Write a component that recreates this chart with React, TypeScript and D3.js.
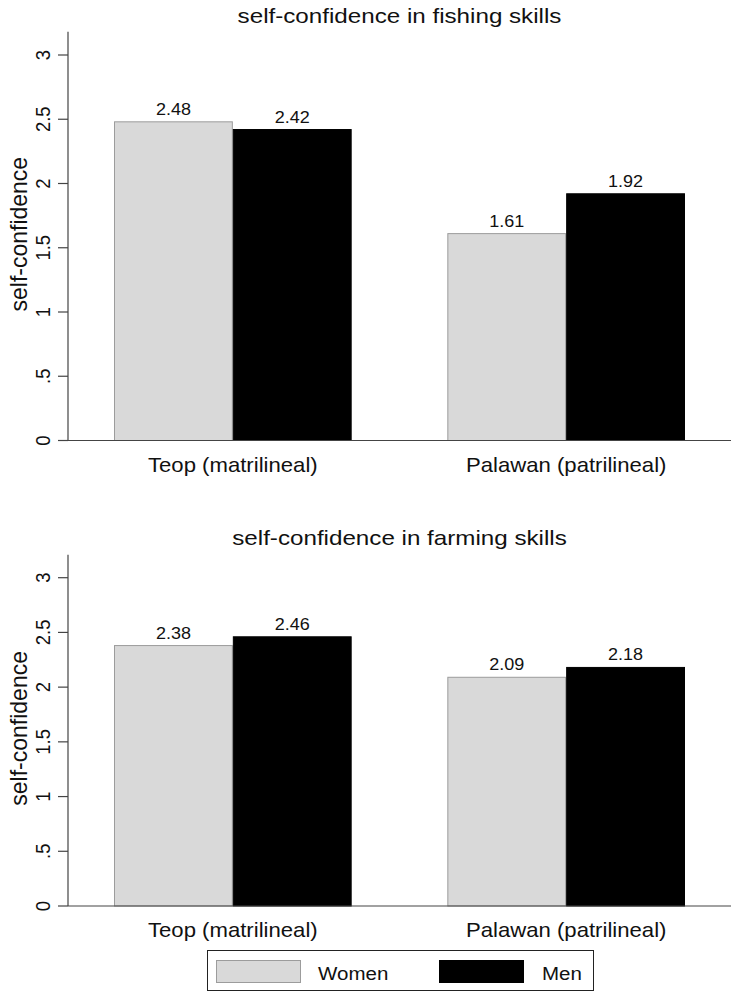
import React from "react";
import * as d3 from "d3";

const categories = ["Teop (matrilineal)", "Palawan (patrilineal)"];
const seriesNames = ["Women", "Men"];
const fishingWomen = [2.48, 1.61];
const fishingMen = [2.42, 1.92];
const farmingWomen = [2.38, 2.09];
const farmingMen = [2.46, 2.18];
const yTickValues = [0, 0.5, 1, 1.5, 2, 2.5, 3];
const yTickLabels = ["0", ".5", "1", "1.5", "2", "2.5", "3"];
const titles = ["self-confidence in fishing skills", "self-confidence in farming skills"];
const yAxisTitle = "self-confidence";

const FONT = "'Liberation Sans', Arial, Helvetica, sans-serif";
const fills = ["#d9d9d9", "#000000"];
const strokes = ["#9c9c9c", "#000000"];

const xLeft = 68;
const xRight = 731;

const x = d3
  .scaleBand<string>()
  .domain(categories)
  .range([xLeft, xRight])
  .paddingInner(0.287)
  .paddingOuter(0.138);
const xSub = d3.scaleBand<string>().domain(seriesNames).range([0, x.bandwidth()]);

type PanelProps = {
  title: string;
  women: number[];
  men: number[];
  yZero: number;
  yThree: number;
  yTopVal: number;
  titleY: number;
};

function Panel({ title, women, men, yZero, yThree, yTopVal, titleY }: PanelProps) {
  const y = d3.scaleLinear().domain([0, 3]).range([yZero, yThree]);
  const values = [women, men];
  const cx = (xLeft + xRight) / 2;
  const midY = (y(0) + y(yTopVal)) / 2 - 2;
  return (
    <g>
      <text
        transform={`translate(${cx},${titleY}) scale(1.18,1)`}
        textAnchor="middle"
        fontSize={20.5}
        fontFamily={FONT}
        fill="#111"
      >
        {title}
      </text>
      {categories.map((c, ci) =>
        seriesNames.map((s, si) => {
          const v = values[si][ci];
          const bx = (x(c) as number) + (xSub(s) as number);
          const bw = xSub.bandwidth();
          return (
            <g key={c + s}>
              <rect
                x={bx + 0.5}
                y={y(v)}
                width={bw - 1}
                height={y(0) - y(v)}
                fill={fills[si]}
                stroke={strokes[si]}
                strokeWidth={1}
              />
              <text
                transform={`translate(${bx + bw / 2},${y(v) - 7}) scale(1.06,1)`}
                textAnchor="middle"
                fontSize={17}
                fontFamily={FONT}
                fill="#111"
              >
                {v.toFixed(2)}
              </text>
            </g>
          );
        })
      )}
      {/* y axis */}
      <line x1={xLeft} x2={xLeft} y1={y(yTopVal)} y2={y(0)} stroke="#444" strokeWidth={1.2} />
      {yTickValues.map((t, i) => (
        <g key={t}>
          <line x1={xLeft - 10} x2={xLeft} y1={y(t)} y2={y(t)} stroke="#444" strokeWidth={1.2} />
          <text
            transform={`translate(${50},${y(t)}) scale(1.12,1) rotate(-90)`}
            textAnchor="middle"
            fontSize={18.5}
            fontFamily={FONT}
            fill="#111"
          >
            {yTickLabels[i]}
          </text>
        </g>
      ))}
      {/* x axis */}
      <line x1={xLeft} x2={xRight} y1={y(0)} y2={y(0)} stroke="#444" strokeWidth={1.2} />
      {categories.map((c) => (
        <text
          key={c}
          transform={`translate(${(x(c) as number) + x.bandwidth() / 2},${y(0) + 31}) scale(1.08,1)`}
          textAnchor="middle"
          fontSize={20.5}
          fontFamily={FONT}
          fill="#111"
        >
          {c}
        </text>
      ))}
      <text
        transform={`translate(${27},${midY}) scale(1.02,1) rotate(-90)`}
        textAnchor="middle"
        fontSize={23}
        fontFamily={FONT}
        fill="#111"
      >
        {yAxisTitle}
      </text>
    </g>
  );
}

export default function App() {
  return (
    <svg
      width={732}
      height={992}
      style={{ position: "absolute", left: 0, top: 0, background: "#fff" }}
    >
      <rect x={0} y={0} width={732} height={992} fill="#fff" />
      <Panel
        title={titles[0]}
        women={fishingWomen}
        men={fishingMen}
        yZero={440.5}
        yThree={55}
        yTopVal={3.18}
        titleY={23}
      />
      <Panel
        title={titles[1]}
        women={farmingWomen}
        men={farmingMen}
        yZero={906}
        yThree={577.7}
        yTopVal={3.21}
        titleY={545}
      />
      {/* legend */}
      <g>
        <rect x={207.5} y={950.5} width={386} height={40} fill="#fff" stroke="#222" strokeWidth={1} />
        <rect x={216.5} y={960.5} width={84} height={22} fill={fills[0]} stroke={strokes[0]} strokeWidth={1} />
        <text
          transform={`translate(318,980) scale(1.08,1)`}
          fontSize={19}
          fontFamily={FONT}
          fill="#111"
        >
          {seriesNames[0]}
        </text>
        <rect x={439.5} y={960.5} width={84} height={22} fill={fills[1]} stroke={strokes[1]} strokeWidth={1} />
        <text
          transform={`translate(542,980) scale(1.08,1)`}
          fontSize={19}
          fontFamily={FONT}
          fill="#111"
        >
          {seriesNames[1]}
        </text>
      </g>
    </svg>
  );
}
